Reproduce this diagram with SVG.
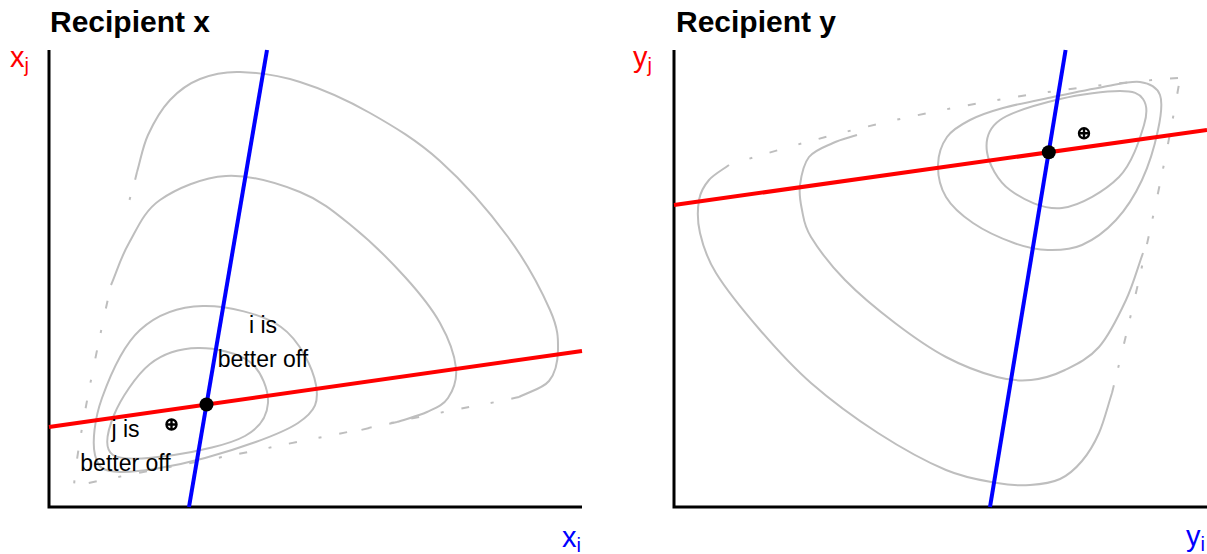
<svg xmlns="http://www.w3.org/2000/svg" width="1207" height="554" viewBox="0 0 1207 554">
<style>
.c{fill:none;stroke:#bebebe;stroke-width:2}
.d{fill:none;stroke:#bebebe;stroke-width:2;stroke-dasharray:8 18 3 22}
.ax{fill:none;stroke:#000;stroke-width:3}
.rl{stroke:#ff0000;stroke-width:4}
.bl{stroke:#0000ff;stroke-width:4}
.title{font-family:"Liberation Sans",Arial,sans-serif;font-weight:bold;font-size:30px;fill:#000}
.lab{font-family:"Liberation Sans",Arial,sans-serif;font-size:23px;fill:#000;text-anchor:middle}
.axl{font-family:"Liberation Sans",Arial,sans-serif;font-size:29px}
.op{fill:none;stroke:#000;stroke-width:2.4}
</style>
<rect width="1207" height="554" fill="#fff"/>

<g id="panel-x">
  <text class="title" x="50" y="32">Recipient x</text>
  <g id="contours-x">
    <path class="c" d="M198,348 C214.7,347.7 238.3,352.8 250,362 C261.7,371.2 268.8,390.7 268,403 C267.2,415.3 260.7,427.3 245,436 C229.3,444.7 196,451.8 174,455 C152,458.2 123,461.7 113,455 C103,448.3 107.8,430.2 114,415 C120.2,399.8 136,375.2 150,364 C164,352.8 181.3,348.3 198,348 Z"/>
    <path class="c" d="M203,306 C226.5,305.5 262.2,313.8 281,327 C299.8,340.2 313.2,369 316,385 C318.8,401 316.5,410.8 298,423 C279.5,435.2 234.7,449.8 205,458 C175.3,466.2 138.3,472.5 120,472 C101.7,471.5 98,467.3 95,455 C92,442.7 94.5,418.8 102,398 C109.5,377.2 123.2,345.3 140,330 C156.8,314.7 179.5,306.5 203,306 Z"/>
    <path class="c" d="M111,285 C117,271 120.8,257.2 129,243 C137.2,228.8 143.8,211.2 160,200 C176.2,188.8 202.7,177.3 226,176 C249.3,174.7 278.8,183.5 300,192 C321.2,200.5 335.5,212.8 353,227 C370.5,241.2 390.5,261 405,277 C419.5,293 431.5,307.8 440,323 C448.5,338.2 454.7,355.5 456,368 C457.3,380.5 452.8,390.7 448,398 C443.2,405.3 435.5,408 427,412 C418.5,416 407,418.7 397,422"/>
    <path class="d" d="M397,422 C370,428 300,441 268,448 C230,456 140,472 74,486 C76,455 90,380 111,285"/>
    <path class="c" d="M137,172 C140.7,159.7 142.5,147 148,135 C153.5,123 161.3,109.3 170,100 C178.7,90.7 188.3,83.7 200,79 C211.7,74.3 223.3,71.5 240,72 C256.7,72.5 278.3,75.2 300,82 C321.7,88.8 346.7,99.8 370,113 C393.3,126.2 417,140.3 440,161 C463,181.7 489.7,212.2 508,237 C526.3,261.8 541.7,291.2 550,310 C558.3,328.8 558.2,338.2 558,350 C557.8,361.8 555.5,373.2 549,381 C542.5,388.8 529,391.7 519,397"/>
    <path class="d" d="M519,397 C490,404 420,415 353,432"/>
    <path class="d" d="M137,172 C134,185 130,198 126,212"/>
  </g>
  <g id="axes-x">
    <path class="ax" d="M49,50 L49,507 L582,507"/>
  </g>
  <g id="lines-x">
    <line class="rl" x1="49" y1="427" x2="582" y2="351"/>
    <line class="bl" x1="189" y1="507" x2="267" y2="50"/>
  </g>
  <g id="points-x">
    <circle cx="206.5" cy="404.5" r="7" fill="#000"/>
    <g id="ideal-x">
      <circle class="op" cx="171.5" cy="424.5" r="5"/>
      <path class="op" d="M166.5,424.5 H176.5 M171.5,419.5 V429.5"/>
    </g>
  </g>
  <g id="labels-x">
    <text class="axl" x="10" y="67" fill="#ff0000">x<tspan font-size="20" dy="5">j</tspan></text>
    <text class="axl" x="562" y="547" fill="#0000ff">x<tspan font-size="20" dy="5">i</tspan></text>
    <text class="lab" x="263" y="333">i is</text>
    <text class="lab" x="263" y="367">better off</text>
    <text class="lab" x="125.5" y="437">j is</text>
    <text class="lab" x="125.5" y="471">better off</text>
  </g>
</g>

<g id="panel-y">
  <text class="title" x="676" y="32">Recipient y</text>
  <g id="contours-y">
    <path class="c" d="M987,152 C985.3,140.3 987.8,128.8 1000,120 C1012.2,111.2 1040,103.8 1060,99 C1080,94.2 1106.2,91 1120,91 C1133.8,91 1139,93.3 1143,99 C1147,104.7 1148,112 1144,125 C1140,138 1132.7,163.2 1119,177 C1105.3,190.8 1080.2,205.8 1062,208 C1043.8,210.2 1022.5,199.3 1010,190 C997.5,180.7 988.7,163.7 987,152 Z"/>
    <path class="c" d="M938,165 C938.2,155 941.7,144.5 947,137 C952.3,129.5 960.7,124.8 970,120 C979.3,115.2 989.2,111.8 1003,108 C1016.8,104.2 1036.3,100.5 1053,97 C1069.7,93.5 1088.5,89.5 1103,87 C1117.5,84.5 1130.5,80.7 1140,82 C1149.5,83.3 1157,87 1160,95 C1163,103 1161,115.8 1158,130 C1155,144.2 1149,165 1142,180 C1135,195 1126,209.2 1116,220 C1106,230.8 1093.3,240 1082,245 C1070.7,250 1059.3,250.3 1048,250 C1036.7,249.7 1026.5,247.5 1014,243 C1001.5,238.5 984.3,230.7 973,223 C961.7,215.3 951.8,206.7 946,197 C940.2,187.3 937.8,175 938,165 Z"/>
    <path class="c" d="M857,135 C849,137.7 841,139.3 833,143 C825,146.7 814.5,150 809,157 C803.5,164 801.2,176.2 800,185 C798.8,193.8 800.2,201.3 802,210 C803.8,218.7 803.8,225.3 811,237 C818.2,248.7 831,265.7 845,280 C859,294.3 878.2,310.2 895,323 C911.8,335.8 929,348 946,357 C963,366 982.8,373.2 997,377 C1011.2,380.8 1019.7,381.2 1031,380 C1042.3,378.8 1053.7,375.5 1065,370 C1076.3,364.5 1088.8,358.7 1099,347 C1109.2,335.3 1118.7,315.7 1126,300 C1133.3,284.3 1137.3,268.7 1143,253"/>
    <path class="c" d="M729,165 C722.3,170 714,174.2 709,180 C704,185.8 700.5,191.2 699,200 C697.5,208.8 697.2,220.8 700,233 C702.8,245.2 706,256.8 716,273 C726,289.2 744.2,311.7 760,330 C775.8,348.3 791.3,365.8 811,383 C830.7,400.2 855.5,418.5 878,433 C900.5,447.5 926.2,461.7 946,470 C965.8,478.3 983,480.5 997,483 C1011,485.5 1019.5,485.7 1030,485 C1040.5,484.3 1051.3,483 1060,479 C1068.7,475 1075.5,468.7 1082,461 C1088.5,453.3 1094,444.3 1099,433 C1104,421.7 1107.7,406.3 1112,393"/>
    <path class="d" d="M1112,393 C1135,300 1165,170 1181,72"/>
    <path class="d" d="M1178,78 Q950,95 729,165"/>
  </g>
  <g id="axes-y">
    <path class="ax" d="M674,50 L674,507 L1207,507"/>
  </g>
  <g id="lines-y">
    <line class="rl" x1="674" y1="205" x2="1207" y2="130"/>
    <line class="bl" x1="990" y1="507" x2="1065.6" y2="50"/>
  </g>
  <g id="points-y">
    <circle cx="1048.8" cy="152.3" r="7" fill="#000"/>
    <g id="ideal-y">
      <circle class="op" cx="1084" cy="133.3" r="5"/>
      <path class="op" d="M1079,133.3 H1089 M1084,128.3 V138.3"/>
    </g>
  </g>
  <g id="labels-y">
    <text class="axl" x="633" y="67" fill="#ff0000">y<tspan font-size="20" dy="5">j</tspan></text>
    <text class="axl" x="1186" y="546" fill="#0000ff">y<tspan font-size="20" dy="5">i</tspan></text>
  </g>
</g>
</svg>
